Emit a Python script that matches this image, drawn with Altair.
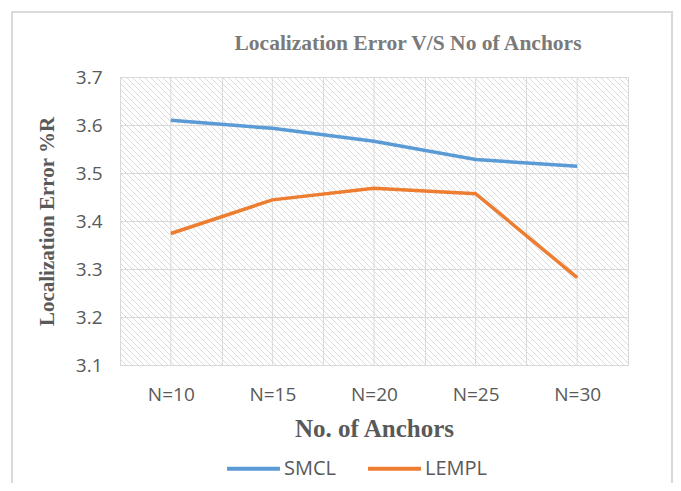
import altair as alt
import pandas as pd

categories = ["N=10", "N=15", "N=20", "N=25", "N=30"]
smcl = [3.61, 3.593, 3.566, 3.528, 3.514]
lempl = [3.374, 3.444, 3.468, 3.457, 3.282]
series_names = ["SMCL", "LEMPL"]
colors = ["#5B9BD5", "#ED7D31"]
title_text = "Localization Error V/S No of Anchors"

W, H = 508, 288

rows = []
for c, a, b in zip(categories, smcl, lempl):
    rows.append({"cat": c, "series": "SMCL", "value": a})
    rows.append({"cat": c, "series": "LEMPL", "value": b})
df = pd.DataFrame(rows)

# decorative hatch of the plot background
hatch = pd.DataFrame({"t": list(range(-H, W, 6))})
hatch["t2"] = hatch["t"] + H
hatch["y0"] = 0
hatch["y1"] = H

hatch_layer = alt.Chart(hatch).mark_rule(clip=True, color="#dcdcdc", strokeWidth=1).encode(
    x=alt.X("t:Q", scale=alt.Scale(domain=[0, W], nice=False, zero=False), axis=None),
    x2="t2:Q",
    y=alt.Y("y0:Q", scale=alt.Scale(domain=[0, H], nice=False, reverse=True), axis=None),
    y2="y1:Q",
)

frame = alt.Chart(alt.Data(values=[{}])).mark_rect(
    fill=None, stroke="#d9d9d9", strokeWidth=2
).encode(
    x=alt.value(-108), x2=alt.value(552), y=alt.value(-65), y2=alt.value(430)
)

title = alt.Chart(alt.Data(values=[{"t": title_text}])).mark_text(
    font="Liberation Serif", fontSize=21.5, fontWeight="bold", color="#7a7a7a",
    align="center", baseline="alphabetic",
).encode(text="t:N", x=alt.value(288), y=alt.value(-27))

xscale = alt.Scale(domain=categories, paddingInner=0, paddingOuter=0)
yscale = alt.Scale(domain=[3.1, 3.7], nice=False, zero=False)

center_grid = alt.Chart(pd.DataFrame({"cat": categories})).mark_rule(
    color="#d9d9d9", strokeWidth=1
).encode(
    x=alt.X("cat:N", scale=xscale, sort=categories, axis=None)
)

lines = alt.Chart(df).mark_line(strokeWidth=3.5).encode(
    x=alt.X(
        "cat:N", scale=xscale, sort=categories,
        axis=alt.Axis(
            title="No. of Anchors", labelAngle=0, tickBand="extent", grid=True,
            gridColor="#d9d9d9", ticks=False, domain=False,
            labelFont="Open Sans", labelFontSize=19, labelColor="#595959",
            labelPadding=20,
            titleFont="Liberation Serif", titleFontSize=25, titleFontWeight="bold",
            titleColor="#595959", titlePadding=12,
        ),
    ),
    y=alt.Y(
        "value:Q", scale=yscale,
        axis=alt.Axis(
            title="Localization Error %R", values=[3.1, 3.2, 3.3, 3.4, 3.5, 3.6, 3.7],
            format=".1f", grid=True, gridColor="#d9d9d9", ticks=False, domain=False,
            labelFont="Open Sans", labelFontSize=19, labelColor="#595959",
            labelPadding=18,
            titleFont="Liberation Serif", titleFontSize=21, titleFontWeight="bold",
            titleColor="#595959", titlePadding=18,
        ),
    ),
    color=alt.Color(
        "series:N", scale=alt.Scale(domain=series_names, range=colors),
        sort=series_names,
        legend=alt.Legend(
            title=None, orient="none", direction="horizontal",
            legendX=105, legendY=363,
            symbolType="stroke", symbolSize=2800, symbolStrokeWidth=4,
            labelFont="Open Sans", labelFontSize=20, labelColor="#595959",
            columnPadding=24, labelOffset=2,
        ),
    ),
)

chart = alt.layer(frame, hatch_layer, center_grid, lines, title).resolve_scale(
    x="independent", y="independent"
).properties(
    width=W, height=H,
    autosize=alt.AutoSizeParams(type="none"),
    padding={"left": 112, "top": 69, "right": 45, "bottom": 118},
).configure_view(stroke="#d9d9d9", strokeWidth=1)

chart.save("out.html", embed_options={"renderer": "svg", "actions": False})
